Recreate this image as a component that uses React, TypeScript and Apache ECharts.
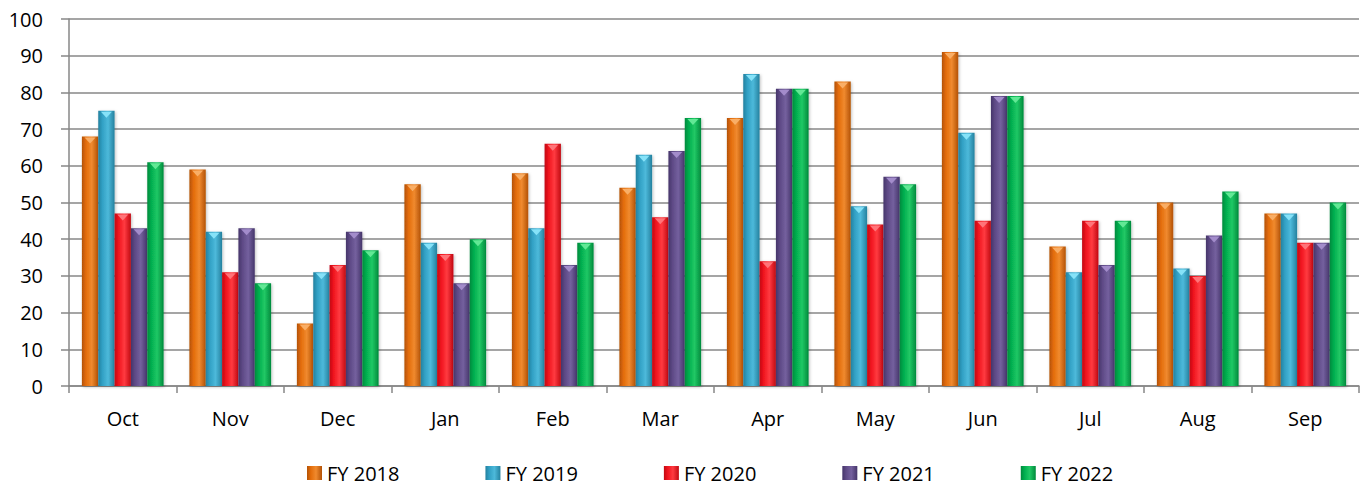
import React, { useEffect, useRef } from "react";
import * as echarts from "echarts";

const categories = ["Oct", "Nov", "Dec", "Jan", "Feb", "Mar", "Apr", "May", "Jun", "Jul", "Aug", "Sep"];
const seriesNames = ["FY 2018", "FY 2019", "FY 2020", "FY 2021", "FY 2022"];
const fy2018 = [68, 59, 17, 55, 58, 54, 73, 83, 91, 38, 50, 47];
const fy2019 = [75, 42, 31, 39, 43, 63, 85, 49, 69, 31, 32, 47];
const fy2020 = [47, 31, 33, 36, 66, 46, 34, 44, 45, 45, 30, 39];
const fy2021 = [43, 43, 42, 28, 33, 64, 81, 57, 79, 33, 41, 39];
const fy2022 = [61, 28, 37, 40, 39, 73, 81, 55, 79, 45, 53, 50];
const yTicks = [0, 10, 20, 30, 40, 50, 60, 70, 80, 90, 100];

const palette = [
  { base: "#E36C09", dark: "#B35206", light: "#F08A2E", tip: "#F9AE66" },
  { base: "#31A0C4", dark: "#24819F", light: "#4DB9DA", tip: "#86E2F8" },
  { base: "#F0141E", dark: "#C10A12", light: "#FF3A40", tip: "#FF7479" },
  { base: "#5E4A86", dark: "#45356A", light: "#74609E", tip: "#A38CCB" },
  { base: "#00AE4F", dark: "#008A3C", light: "#20C865", tip: "#62E895" },
];

export default function App() {
  const ref = useRef<HTMLDivElement>(null);
  useEffect(() => {
    document.body.style.margin = "0";
    const chart = echarts.init(ref.current!, null, { renderer: "svg" });
    const data = [fy2018, fy2019, fy2020, fy2021, fy2022];
    const font = "'Open Sans', Lato, sans-serif";
    chart.setOption({
      animation: false,
      textStyle: { fontFamily: font },
      color: palette.map((p) => p.base),
      grid: { left: 69, right: 11, top: 19, bottom: 99, containLabel: false },
      legend: {
        top: 463,
        left: 307,
        padding: 0,
        itemWidth: 15,
        itemHeight: 14,
        itemGap: 86,
        icon: "rect",
        textStyle: { fontSize: 20, lineHeight: 20, color: "#000", fontFamily: font },
        data: seriesNames,
      },
      xAxis: {
        type: "category",
        data: categories,
        axisLine: { lineStyle: { color: "#878787", width: 1.5 } },
        axisTick: { show: true, length: 7, lineStyle: { color: "#878787", width: 1.5 } },
        axisLabel: { fontSize: 20, color: "#000", margin: 22, fontFamily: font },
      },
      yAxis: {
        type: "value",
        min: 0,
        max: 100,
        interval: 10,
        axisLine: { show: true, lineStyle: { color: "#878787", width: 1.5 } },
        axisTick: { show: true, length: 8, lineStyle: { color: "#878787", width: 1.5 } },
        splitLine: { lineStyle: { color: "#878787", width: 1.5 } },
        axisLabel: {
          fontSize: 20,
          color: "#000",
          margin: 26,
          fontFamily: font,
          formatter: (v: number) => (yTicks.includes(v) ? String(v) : ""),
        },
      },
      series: seriesNames.map((name, i) => ({
        name,
        type: "bar",
        data: data[i],
        barGap: "0%",
        barCategoryGap: "24%",
        itemStyle: {
          color: new echarts.graphic.LinearGradient(0, 0, 1, 0, [
            { offset: 0, color: palette[i].dark },
            { offset: 0.25, color: palette[i].base },
            { offset: 0.6, color: palette[i].light },
            { offset: 1, color: palette[i].dark },
          ]),
          shadowBlur: 3,
          shadowColor: "rgba(0,0,0,0.25)",
          shadowOffsetX: 1,
          shadowOffsetY: 1,
        },
        markPoint: {
          symbol: "triangle",
          symbolRotate: 180,
          symbolSize: [11, 6],
          symbolOffset: [0, 4],
          label: { show: false },
          itemStyle: { color: palette[i].tip },
          silent: true,
          data: data[i].map((v, k) => ({ coord: [k, v] })),
        },
      })),
    });
    return () => chart.dispose();
  }, []);
  return <div ref={ref} style={{ width: 1370, height: 485 }} />;
}
